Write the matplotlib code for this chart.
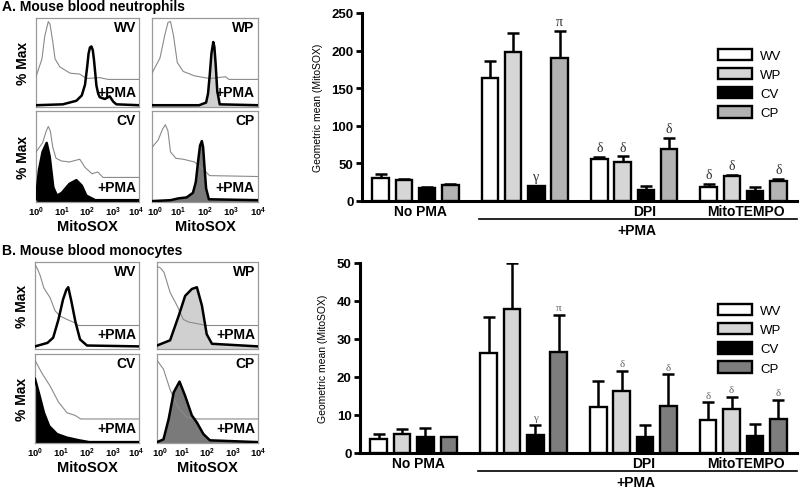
import numpy as np
import matplotlib
matplotlib.use('Agg')
import matplotlib.pyplot as plt
from matplotlib.transforms import blended_transform_factory, ScaledTranslation

plt.rcParams['font.family'] = ['Liberation Sans', 'DejaVu Sans']
plt.rcParams['mathtext.fontset'] = 'custom'
plt.rcParams['mathtext.rm'] = 'Liberation Sans:bold'
plt.rcParams['mathtext.bf'] = 'Liberation Sans:bold'
plt.rcParams['mathtext.it'] = 'Liberation Sans:bold'

W, H = 800, 489

# ---- bar chart data ----
groups = ['No PMA', '+PMA', 'DPI', 'MitoTEMPO']
series = ['WV', 'WP', 'CV', 'CP']

# neutrophils (A)
neu_wv = [31, 163, 55.4, 18.8]
neu_wv_err = [4.6, 23, 3.6, 3.5]
neu_wp = [27.6, 198, 52.3, 33]
neu_wp_err = [1.1, 25, 7.1, 1.3]
neu_cv = [17.8, 19.6, 14.7, 13.4]
neu_cv_err = [0.7, 0.9, 5.3, 4.8]
neu_cp = [21, 190, 68.8, 26.8]
neu_cp_err = [1.8, 36, 14.7, 3.1]
neu_marks = [('+PMA', 'CV', 'γ'), ('+PMA', 'CP', 'π'),
             ('DPI', 'WV', 'δ'), ('DPI', 'WP', 'δ'), ('DPI', 'CP', 'δ'),
             ('MitoTEMPO', 'WV', 'δ'), ('MitoTEMPO', 'WP', 'δ'), ('MitoTEMPO', 'CP', 'δ')]

# monocytes (B)
mono_wv = [3.6, 26.3, 12.0, 8.6]
mono_wv_err = [1.5, 9.6, 6.9, 4.7]
mono_wp = [5.0, 38.0, 16.2, 11.7]
mono_wp_err = [1.3, 11.9, 5.5, 3.1]
mono_cv = [4.3, 4.7, 4.1, 4.5]
mono_cv_err = [2.2, 2.7, 3.2, 3.1]
mono_cp = [4.1, 26.5, 12.5, 8.9]
mono_cp_err = [0.2, 9.9, 8.2, 5.1]
mono_marks = [('+PMA', 'CV', 'γ'), ('+PMA', 'CP', 'π'),
              ('DPI', 'WP', 'δ'), ('DPI', 'CP', 'δ'),
              ('MitoTEMPO', 'WV', 'δ'), ('MitoTEMPO', 'WP', 'δ'), ('MitoTEMPO', 'CP', 'δ')]

# ---- histogram data (MitoSOX intensity, % max; thin = no PMA, shifted up) ----
neu_wv_thin_x = [1, 1.7, 2.2, 3.0, 3.5, 4.5, 5.5, 8.5, 21, 50, 90, 300, 630, 10000]
neu_wv_thin_y = [34, 54, 80, 96, 93, 73, 54, 45, 38, 37, 32, 33, 31, 31]
neu_wv_pma_x = [1, 11, 37, 60, 80, 97, 110, 125, 142, 160, 177, 200, 222, 260, 300,
                470, 730, 1000, 1320, 10000]
neu_wv_pma_y = [2, 3, 7, 13, 25, 45, 60, 67, 68, 64, 54, 38, 24, 15, 11, 9, 12, 6, 3, 2]

neu_wp_thin_x = [1, 2, 3, 4, 5, 6.5, 9, 15, 40, 150, 600, 800, 10000]
neu_wp_thin_y = [38, 55, 80, 95, 96, 80, 50, 40, 35, 32, 34, 31, 31]
neu_wp_pma_x = [1, 60, 110, 130, 150, 175, 205, 225, 250, 290, 360, 10000]
neu_wp_pma_y = [2, 2, 5, 15, 35, 60, 73, 68, 50, 18, 3, 2]

neu_cv_thin_x = [1, 1.8, 2.5, 3, 3.6, 4.5, 6, 10, 20, 50, 80, 150, 250, 400, 10000]
neu_cv_thin_y = [55, 65, 78, 83, 78, 60, 48, 45, 44, 47, 38, 31, 33, 27, 27]
neu_cv_pma_x = [1, 1.3, 1.8, 2.6, 3.4, 4.7, 6.5, 10, 20, 37, 60, 90, 200, 10000]
neu_cv_pma_y = [3, 35, 55, 65, 50, 16, 7, 10, 20, 24, 18, 7, 2, 2]

neu_cp_thin_x = [1, 1.7, 2.5, 3.2, 4, 5, 8, 15, 40, 70, 150, 10000]
neu_cp_thin_y = [60, 68, 80, 85, 78, 55, 48, 47, 44, 38, 29, 28]
neu_cp_pma_x = [1, 5, 10, 20, 35, 45, 55, 65, 76, 85, 95, 110, 140, 10000]
neu_cp_pma_y = [1, 2, 4, 5, 10, 22, 45, 62, 67, 60, 40, 15, 3, 2]

mono_wv_thin_x = [1, 1.25, 1.6, 2.2, 3.8, 5.9, 9, 17, 35, 47, 10000]
mono_wv_thin_y = [97, 92, 84, 70, 59, 44, 38, 34, 30, 27, 27]
mono_wv_pma_x = [1, 3, 5, 8, 12, 16, 19, 25, 36, 54, 100, 10000]
mono_wv_pma_y = [3, 7, 13, 34, 57, 68, 71, 55, 31, 11, 4, 3]

mono_wp_thin_x = [1, 1.4, 1.9, 3.3, 6.2, 11, 18, 93, 10000]
mono_wp_thin_y = [95, 93, 88, 65, 50, 34, 31, 27, 27]
mono_wp_pma_x = [1, 3.3, 7.2, 13, 24, 38, 60, 93, 150, 10000]
mono_wp_pma_y = [4, 10, 38, 61, 69, 71, 50, 17, 6, 3]

mono_cv_thin_x = [1, 1.8, 3.8, 8, 17, 35, 57, 10000]
mono_cv_thin_y = [93, 79, 64, 46, 34, 31, 27, 27]
mono_cv_pma_x = [1, 1.5, 2.2, 3.5, 7, 17, 50, 120, 10000]
mono_cv_pma_y = [72, 53, 34, 19, 10, 6, 3, 1, 1]

mono_cp_thin_x = [1, 1.8, 3.3, 6.2, 15, 40, 10000]
mono_cp_thin_y = [93, 83, 60, 42, 29, 27, 27]
mono_cp_pma_x = [1, 1.8, 2.9, 4.6, 7.8, 13, 24, 38, 69, 125, 10000]
mono_cp_pma_y = [1, 4, 27, 57, 69, 53, 31, 23, 10, 3, 1]


def px_axes(fig, x0, y0, x1, y1):
    return fig.add_axes([x0 / W, 1 - y1 / H, (x1 - x0) / W, (y1 - y0) / H])


fig = plt.figure(figsize=(W / 100, H / 100), dpi=100)


def histo(box, thin_x, thin_y, pma_x, pma_y, fill, name, bottom_row, left_col):
    ax = px_axes(fig, *box)
    ax.set_xscale('log')
    ax.set_xlim(1, 10000)
    ax.set_ylim(0, 100)
    ax.fill_between(pma_x, pma_y, 0, color=fill, lw=0, zorder=2)
    ax.plot(thin_x, thin_y, color='#8a8a8a', lw=0.8, zorder=3)
    ax.plot(pma_x, pma_y, color='black', lw=1.8, zorder=4)
    for sp in ax.spines.values():
        sp.set_color('#9a9a9a')
        sp.set_linewidth(0.9)
    ax.set_yticks([])
    ax.minorticks_off()
    ax.tick_params(axis='x', length=0, pad=2)
    if bottom_row:
        ax.set_xticks([1, 10, 100, 1000, 10000])
        ax.set_xticklabels([r'$10^0$', r'$10^1$', r'$10^2$', r'$10^3$', r'$10^4$'],
                           fontsize=6.8, fontweight='bold')
        # keep the neighbouring end labels of the two columns apart
        labs = ax.get_xticklabels()
        if left_col:
            labs[-1].set_transform(labs[-1].get_transform()
                                   + ScaledTranslation(-3 / 100, 0, fig.dpi_scale_trans))
        else:
            labs[0].set_transform(labs[0].get_transform()
                                  + ScaledTranslation(3 / 100, 0, fig.dpi_scale_trans))
        ax.set_xlabel('MitoSOX', fontsize=10.5, fontweight='bold', labelpad=1)
    else:
        ax.set_xticks([])
    if left_col:
        ax.set_ylabel('% Max', fontsize=10, fontweight='bold', labelpad=4)
    ax.text(0.97, 0.90, name, transform=ax.transAxes, ha='right', va='center',
            fontsize=10, fontweight='bold')
    ax.text(0.97, 0.17, '+PMA', transform=ax.transAxes, ha='right', va='center',
            fontsize=10, fontweight='bold')
    return ax


# panel A histograms
histo((36, 19, 139, 108), neu_wv_thin_x, neu_wv_thin_y, neu_wv_pma_x, neu_wv_pma_y, 'white', 'WV', False, True)
histo((152, 19, 258, 108), neu_wp_thin_x, neu_wp_thin_y, neu_wp_pma_x, neu_wp_pma_y, '#d0d0d0', 'WP', False, False)
histo((36, 112, 139, 203), neu_cv_thin_x, neu_cv_thin_y, neu_cv_pma_x, neu_cv_pma_y, 'black', 'CV', True, True)
histo((152, 112, 258, 203), neu_cp_thin_x, neu_cp_thin_y, neu_cp_pma_x, neu_cp_pma_y, '#7a7a7a', 'CP', True, False)

# panel B histograms
histo((35, 263, 139, 350), mono_wv_thin_x, mono_wv_thin_y, mono_wv_pma_x, mono_wv_pma_y, 'white', 'WV', False, True)
histo((157, 263, 258, 350), mono_wp_thin_x, mono_wp_thin_y, mono_wp_pma_x, mono_wp_pma_y, '#d0d0d0', 'WP', False, False)
histo((35, 355, 139, 444), mono_cv_thin_x, mono_cv_thin_y, mono_cv_pma_x, mono_cv_pma_y, 'black', 'CV', True, True)
histo((157, 355, 258, 444), mono_cp_thin_x, mono_cp_thin_y, mono_cp_pma_x, mono_cp_pma_y, '#7a7a7a', 'CP', True, False)

fig.text(2 / W, 1 - 7 / H, 'A. Mouse blood neutrophils', fontsize=10, fontweight='bold', va='center')
fig.text(2 / W, 1 - 251 / H, 'B. Mouse blood monocytes', fontsize=10, fontweight='bold', va='center')


def bars(box, ymax, ystep, data, errs, marks, cp_color, mark_color, mark_size, leg_anchor):
    ax = px_axes(fig, *box)
    base = np.arange(len(groups)) * 4.7
    colors = ['white', '#d6d6d6', 'black', cp_color]
    for i, s in enumerate(series):
        x = base + i
        ax.errorbar(x, data[i], yerr=[np.zeros(4), errs[i]], fmt='none', ecolor='black',
                    elinewidth=1.8, capsize=4, capthick=1.8, zorder=2)
        ax.bar(x, data[i], width=0.71, color=colors[i], edgecolor='black', linewidth=1.7,
               label=s, zorder=3)
    for g, s, sym in marks:
        gi = groups.index(g)
        si = series.index(s)
        top = data[si][gi] + errs[si][gi]
        ax.annotate(sym, (base[gi] + si, top), xytext=(0, 2), textcoords='offset points',
                    ha='center', va='bottom', fontsize=mark_size, color=mark_color,
                    family=['Liberation Serif', 'DejaVu Serif'])
    ax.set_xlim(-0.8, base[-1] + 3.8)
    ax.set_ylim(0, ymax)
    ax.set_yticks(np.arange(0, ymax + 1, ystep))
    ax.set_xticks([])
    for sp in ['top', 'right']:
        ax.spines[sp].set_visible(False)
    for sp in ['left', 'bottom']:
        ax.spines[sp].set_linewidth(2.2)
    ax.tick_params(axis='y', length=4, width=2, pad=2, labelsize=9.5)
    for lab in ax.get_yticklabels():
        lab.set_fontweight('bold')
    ax.set_ylabel('Geometric mean (MitoSOX)', fontsize=7.5, labelpad=6)
    tr = blended_transform_factory(ax.transData, ax.transAxes)
    hpx = box[3] - box[1]
    ylab = -10 / hpx
    yline = -17.5 / hpx
    ypma = -29 / hpx
    ax.text(base[0] + 1.7, ylab, 'No PMA', transform=tr, ha='center', va='center',
            fontsize=10, fontweight='bold')
    ax.text(base[2] + 1.95, ylab, 'DPI', transform=tr, ha='center', va='center',
            fontsize=10, fontweight='bold')
    ax.text(base[3] + 1.6, ylab, 'MitoTEMPO', transform=tr, ha='center', va='center',
            fontsize=10, fontweight='bold')
    ax.plot([base[1] - 0.45, base[-1] + 3.8], [yline, yline], transform=tr, color='black',
            lw=1.2, clip_on=False)
    ax.text(base[2] + 1.6, ypma, '+PMA', transform=tr, ha='center', va='center',
            fontsize=10, fontweight='bold')
    ax.legend(loc='upper left', bbox_to_anchor=leg_anchor, frameon=False,
              fontsize=9.5, handlelength=2.6, handleheight=0.95, labelspacing=0.45,
              handletextpad=0.6, borderpad=0, borderaxespad=0)
    return ax


bars((362, 14, 797, 202), 250, 50,
     [neu_wv, neu_wp, neu_cv, neu_cp], [neu_wv_err, neu_wp_err, neu_cv_err, neu_cp_err],
     neu_marks, '#b3b3b3', '#333333', 10, (0.818, 0.81))
bars((360, 264, 797, 454), 50, 10,
     [mono_wv, mono_wp, mono_cv, mono_cp], [mono_wv_err, mono_wp_err, mono_cv_err, mono_cp_err],
     mono_marks, '#7d7d7d', '#666666', 8, (0.819, 0.785))

fig.savefig('out.png', dpi=100)
